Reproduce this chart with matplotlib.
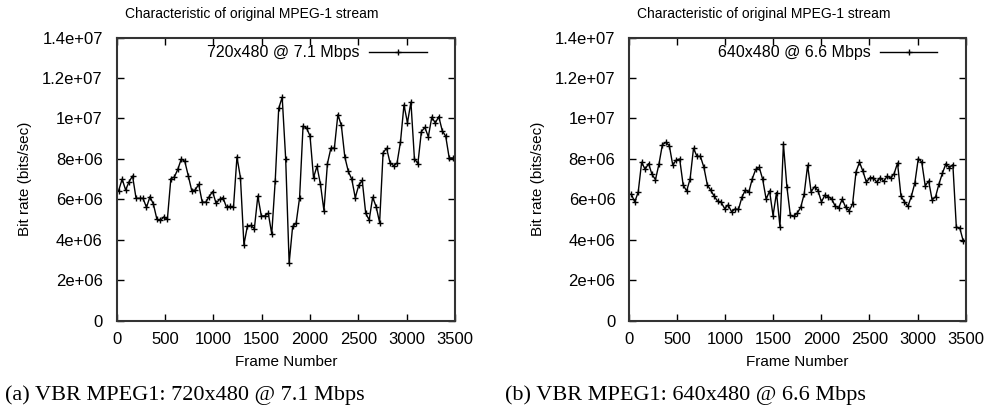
import numpy as np
import matplotlib
matplotlib.use("Agg")
import matplotlib.pyplot as plt
from matplotlib.ticker import FuncFormatter

# ---------------------------------------------------------
# DATA (bit rate in Mbit/s)
# ---------------------------------------------------------
FRAME_START = 20
FRAME_STEP = 36

rate_720 = [
    6.44, 7.01, 6.47, 6.88, 7.16, 6.06, 6.06, 6.06, 5.61, 6.14,
    5.76, 5.02, 4.97, 5.14, 5.02, 7.03, 7.11, 7.49, 8.00, 7.89,
    7.18, 6.44, 6.47, 6.75, 5.88, 5.86, 6.14, 6.39, 5.81, 6.01,
    6.09, 5.61, 5.66, 5.61, 8.10, 7.08, 3.77, 4.69, 4.72, 4.56,
    6.17, 5.19, 5.19, 5.32, 4.30, 6.93, 10.50, 11.05, 8.02, 2.85,
    4.67, 4.82, 6.09, 9.63, 9.53, 9.14, 7.08, 7.64, 6.75, 5.45,
    7.77, 8.54, 8.54, 10.19, 9.66, 8.10, 7.39, 7.00, 6.09, 6.70,
    6.95, 5.32, 4.99, 6.11, 5.65, 4.86, 8.31, 8.53, 7.82, 7.67,
    7.79, 8.85, 10.67, 9.79, 10.81, 8.02, 7.77, 9.35, 9.56, 9.10,
    10.07, 9.78, 10.09, 9.40, 9.12, 8.05, 8.05,
]

rate_640 = [
    6.27, 5.88, 6.36, 7.84, 7.49, 7.77, 7.24, 6.98, 7.74, 8.71,
    8.82, 8.66, 7.70, 7.95, 8.00, 6.72, 6.42, 7.00, 8.53, 8.13,
    8.13, 7.59, 6.72, 6.45, 6.16, 5.91, 5.86, 5.55, 5.73, 5.40,
    5.53, 5.51, 6.11, 6.47, 6.37, 7.03, 7.49, 7.59, 7.00, 6.02,
    6.42, 5.20, 6.34, 4.66, 8.74, 6.63, 5.22, 5.17, 5.33, 5.61,
    6.27, 7.69, 6.39, 6.63, 6.44, 5.88, 6.22, 6.14, 6.02, 5.66,
    5.60, 6.02, 5.61, 5.45, 5.78, 7.37, 7.84, 7.39, 6.85, 7.08,
    7.08, 6.85, 7.08, 6.90, 7.15, 7.06, 7.27, 7.80, 6.16, 5.89,
    5.66, 6.16, 6.81, 8.02, 7.85, 6.68, 6.91, 5.98, 6.14, 6.78,
    7.31, 7.77, 7.57, 7.72, 4.64, 4.59, 3.95,
]

legend_labels = ["720x480 @ 7.1 Mbps", "640x480 @ 6.6 Mbps"]
captions = ["(a) VBR MPEG1: 720x480 @ 7.1 Mbps", "(b) VBR MPEG1: 640x480 @ 6.6 Mbps"]
x_ticks = [0, 500, 1000, 1500, 2000, 2500, 3000, 3500]
y_ticks = [0, 2e6, 4e6, 6e6, 8e6, 1e7, 1.2e7, 1.4e7]

# ---------------------------------------------------------
# PLOT
# ---------------------------------------------------------
plt.rcParams["font.family"] = ["Liberation Sans", "DejaVu Sans"]

fig = plt.figure(figsize=(9.9, 4.19), dpi=100)
ax_a = fig.add_axes([0.1179, 0.2339, 0.3417, 0.6766])
ax_b = fig.add_axes([0.6357, 0.2339, 0.3396, 0.6766])

for ax, rates, label in [(ax_a, rate_720, legend_labels[0]), (ax_b, rate_640, legend_labels[1])]:
    frames = FRAME_START + FRAME_STEP * np.arange(len(rates))
    ax.plot(frames, np.array(rates) * 1e6, color="black", linewidth=1.0,
            marker="+", markersize=5, markeredgewidth=1.0, label=label)
    ax.set_xlim(0, 3500)
    ax.set_ylim(0, 1.4e7)
    ax.set_xticks(x_ticks)
    ax.set_yticks(y_ticks)
    ax.yaxis.set_major_formatter(FuncFormatter(lambda v, p: "%g" % v))
    ax.tick_params(direction="in", length=5, width=1.0, top=True, right=True,
                   labelsize=12, colors="black")
    ax.tick_params(axis="x", pad=8)
    ax.tick_params(axis="y", pad=10)
    for s in ax.spines.values():
        s.set_linewidth(1.5)
        s.set_color("#333333")
    ax.set_title("Characteristic of original MPEG-1 stream", fontsize=10, pad=14, x=0.40)
    ax.set_xlabel("Frame Number", fontsize=11, labelpad=6)
    ax.set_ylabel("Bit rate (bits/sec)", fontsize=11, labelpad=7)
    ax.legend(loc="upper right", frameon=False, markerfirst=False, fontsize=11.5,
              handlelength=3.6, handletextpad=0.6,
              bbox_to_anchor=(0.94, 1.0), borderaxespad=0.1)

fig.text(0.187, 0.058, captions[0], fontsize=16, family="Liberation Serif", ha="center", va="center")
fig.text(0.692, 0.058, captions[1], fontsize=16, family="Liberation Serif", ha="center", va="center")

fig.savefig("out.png", dpi=100)
